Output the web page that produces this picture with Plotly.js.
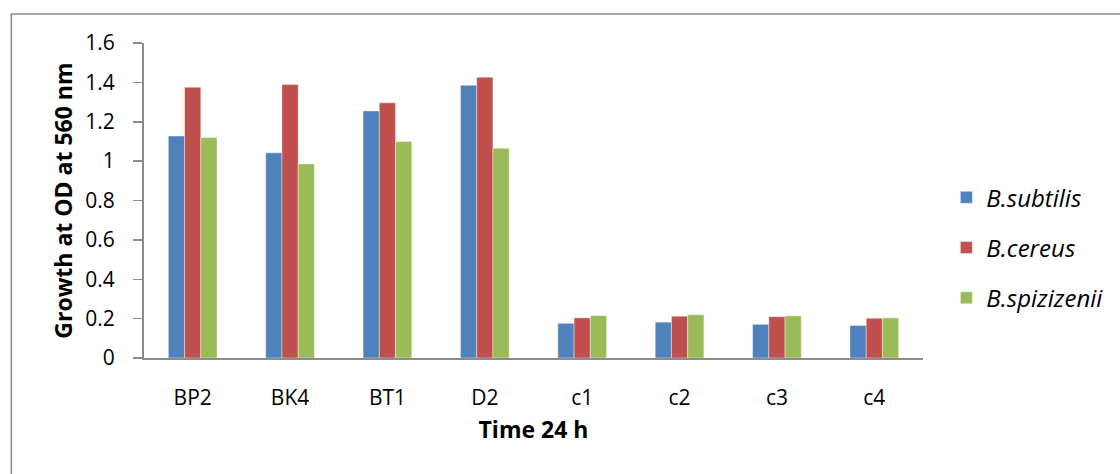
<!DOCTYPE html>
<html>
<head>
<meta charset="utf-8">
<script src="https://cdn.plot.ly/plotly-3.0.1.min.js"></script>
<style>
  html, body { margin: 0; padding: 0; background: #fff; }
  #chart { width: 1120px; height: 474px; }
</style>
</head>
<body>
<div id="chart"></div>
<script>
// Samples measured after 24 h
const samples = ['BP2', 'BK4', 'BT1', 'D2', 'c1', 'c2', 'c3', 'c4'];

// Optical density at 560 nm for each strain
const subtilis   = [1.127, 1.042, 1.255, 1.385, 0.176, 0.182, 0.171, 0.165];
const cereus     = [1.375, 1.389, 1.296, 1.426, 0.204, 0.212, 0.210, 0.202];
const spizizenii = [1.120, 0.986, 1.100, 1.066, 0.215, 0.220, 0.214, 0.204];

const seriesNames = ['B.subtilis', 'B.cereus', 'B.spizizenii'];
const yTicks = [0, 0.2, 0.4, 0.6, 0.8, 1, 1.2, 1.4, 1.6];
const yTickText = ['0', '0.2', '0.4', '0.6', '0.8', '1', '1.2', '1.4', '1.6'];
const xTitle = 'Time 24 h';
const yTitle = 'Growth at OD at 560 nm';

const FONT = '"Open Sans", "Noto Sans", sans-serif';
const colors = ['#4F81BD', '#C0504D', '#9BBB59'];
const values = [subtilis, cereus, spizizenii];

const traces = values.map((v, i) => ({
  type: 'bar',
  name: seriesNames[i],
  x: samples,
  y: v,
  legendgroup: 'g' + i,
  marker: { color: colors[i], line: { color: 'rgba(255,255,255,0.5)', width: 0.8 } },
  hoverinfo: 'x+y+name'
}));

const layout = {
  width: 1120,
  height: 474,
  margin: { l: 144, r: 195, t: 43, b: 116 },
  paper_bgcolor: '#ffffff',
  plot_bgcolor: '#ffffff',
  barmode: 'group',
  bargap: 0.5,
  bargroupgap: 0,
  showlegend: true,
  font: { family: FONT, size: 21, color: '#000' },
  xaxis: {
    type: 'category',
    showgrid: false,
    zeroline: false,
    showline: true,
    linecolor: '#8c8c8c',
    linewidth: 2,
    ticks: '',
    ticklabelstandoff: 20,
    tickfont: { family: FONT, size: 21, color: '#000' },
    title: { text: xTitle, font: { family: FONT, size: 23, color: '#000', weight: 'bold' }, standoff: 12 }
  },
  yaxis: {
    range: [0, 1.6],
    tickvals: yTicks,
    ticktext: yTickText,
    showgrid: false,
    zeroline: false,
    showline: true,
    linecolor: '#8c8c8c',
    linewidth: 2,
    ticks: 'outside',
    ticklen: 9,
    tickwidth: 1.5,
    tickcolor: '#8c8c8c',
    ticklabelstandoff: 14,
    tickfont: { family: FONT, size: 21, color: '#000' }
  },
  annotations: [{
    text: yTitle,
    xref: 'paper', yref: 'paper',
    x: -0.105, y: 0.5,
    xanchor: 'center', yanchor: 'middle',
    textangle: -90,
    showarrow: false,
    font: { family: FONT, size: 23, color: '#000', weight: 'bold' }
  }],
  legend: {
    x: 1.03,
    xanchor: 'left',
    y: 0.35,
    yanchor: 'middle',
    traceorder: 'grouped',
    tracegroupgap: 16,
    itemwidth: 30,
    font: { family: FONT, size: 24, color: '#000', style: 'italic' },
    bgcolor: 'rgba(0,0,0,0)'
  },
  shapes: [{
    type: 'rect',
    xref: 'paper', yref: 'paper',
    x0: -0.1703, x1: 1.3, y0: -0.5, y1: 1.092,
    line: { color: '#8a8a8a', width: 1.5 },
    fillcolor: 'rgba(0,0,0,0)',
    layer: 'below'
  }]
};

Plotly.newPlot('chart', traces, layout, { displayModeBar: false, staticPlot: true });
</script>
</body>
</html>
